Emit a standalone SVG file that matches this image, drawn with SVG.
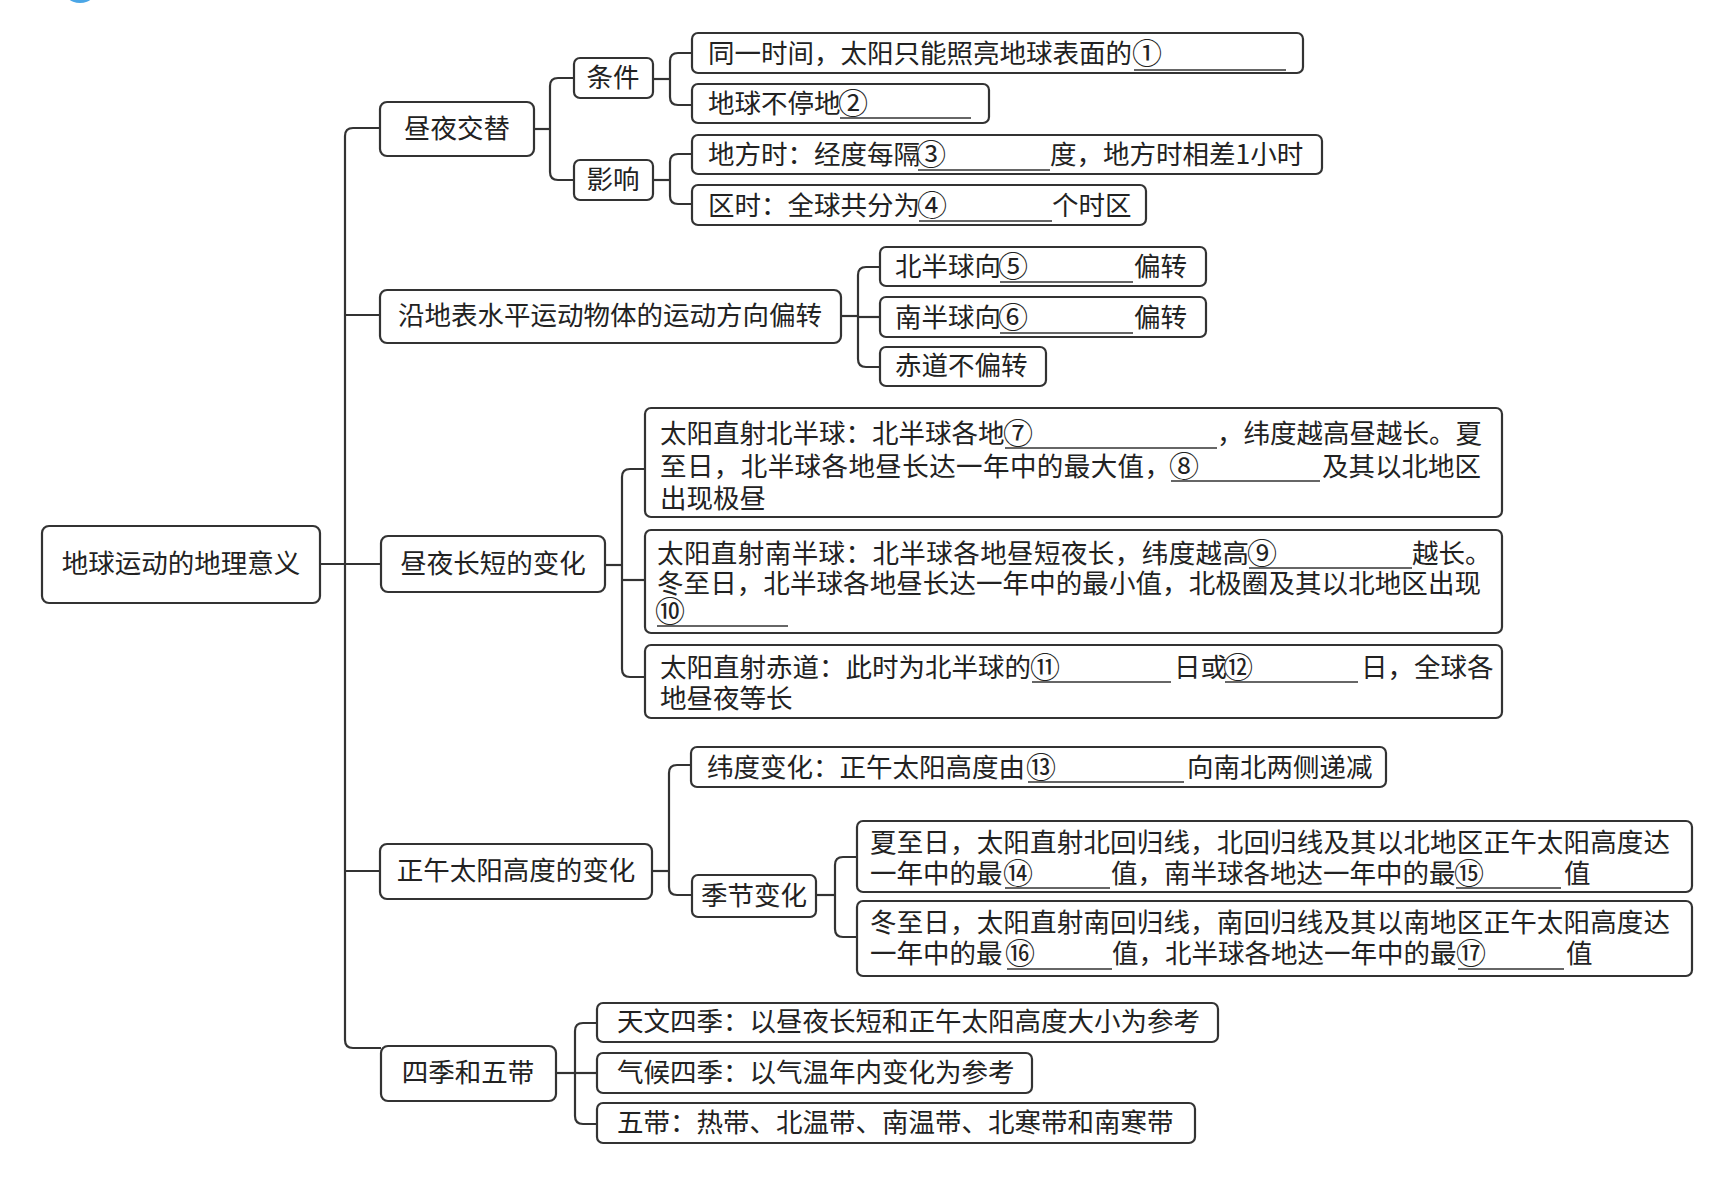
<svg xmlns="http://www.w3.org/2000/svg" width="1734" height="1178" viewBox="0 0 1734 1178">
<style>
.box{fill:#fff;stroke:#333;stroke-width:2.2}
.t{font-family:"Noto Sans CJK SC","Noto Sans CJK TC",sans-serif;font-size:26.5px;fill:#222;dominant-baseline:central;transform:translate(0px,-2.5px)}
.n{font-size:30px}
.c{text-anchor:middle}
.blank{stroke:#333;stroke-width:1.6}
.con{fill:none;stroke:#333;stroke-width:2.2}
</style>
<rect width="1734" height="1178" fill="#fff"/>
<ellipse cx="80" cy="-14" rx="18" ry="17" fill="#4aa6e6"/>

<g id="connectors">
<path class="con" d="M380 128 H353 Q345 128 345 136 V1040 Q345 1048 353 1048 H381"/>
<path class="con" d="M345 315 H380"/>
<path class="con" d="M320 564 H381"/>
<path class="con" d="M345 871 H380"/>
<path class="con" d="M534 129 H550"/>
<path class="con" d="M574 78 H558 Q550 78 550 86 V172 Q550 180 558 180 H574"/>
<path class="con" d="M653 79 H670"/>
<path class="con" d="M692 53 H678 Q670 53 670 61 V97 Q670 105 678 105 H692"/>
<path class="con" d="M653 180 H670"/>
<path class="con" d="M692 154 H678 Q670 154 670 162 V196 Q670 204 678 204 H692"/>
<path class="con" d="M841 316 H858"/>
<path class="con" d="M880 267 H866 Q858 267 858 275 V359 Q858 367 866 367 H880"/>
<path class="con" d="M858 317 H880"/>
<path class="con" d="M605 565 H622"/>
<path class="con" d="M645 469 H630 Q622 469 622 477 V669 Q622 677 630 677 H645"/>
<path class="con" d="M622 580 H645"/>
<path class="con" d="M652 871 H669"/>
<path class="con" d="M691 765 H677 Q669 765 669 773 V887 Q669 895 677 895 H692"/>
<path class="con" d="M816 895 H835"/>
<path class="con" d="M857 857 H843 Q835 857 835 865 V929 Q835 937 843 937 H857"/>
<path class="con" d="M556 1073 H575"/>
<path class="con" d="M597 1023 H583 Q575 1023 575 1031 V1116 Q575 1124 583 1124 H597"/>
<path class="con" d="M575 1073 H597"/>
</g>

<g id="root">
<rect class="box" x="42" y="526" width="278" height="77" rx="7"/>
<text class="t c" x="181" y="564">地球运动的地理意义</text>
</g>

<g id="n1">
<rect class="box" x="380" y="102" width="154" height="54" rx="7"/>
<text class="t c" x="457" y="129">昼夜交替</text>
</g>
<g id="n1a">
<rect class="box" x="574" y="58" width="79" height="40" rx="6"/>
<text class="t c" x="613" y="78">条件</text>
</g>
<g id="n1b">
<rect class="box" x="574" y="160" width="79" height="40" rx="6"/>
<text class="t c" x="613" y="180">影响</text>
</g>
<g id="n1a1">
<rect class="box" x="692" y="33" width="611" height="40" rx="6"/>
<text class="t" y="53"><tspan x="708">同一时间，太阳只能照亮地球表面的</tspan><tspan class="n" x="1132">①</tspan></text>
<line class="blank" x1="1134" y1="70" x2="1286" y2="70"/>
</g>
<g id="n1a2">
<rect class="box" x="692" y="84" width="297" height="39" rx="6"/>
<text class="t" y="103"><tspan x="708">地球不停地</tspan><tspan class="n" x="838">②</tspan></text>
<line class="blank" x1="840" y1="118" x2="971" y2="118"/>
</g>
<g id="n1b1">
<rect class="box" x="692" y="135" width="630" height="39" rx="6"/>
<text class="t" y="154"><tspan x="708">地方时：经度每隔</tspan><tspan class="n" x="916">③</tspan><tspan x="1050">度，地方时相差1小时</tspan></text>
<line class="blank" x1="918" y1="170" x2="1050" y2="170"/>
</g>
<g id="n1b2">
<rect class="box" x="692" y="185" width="454" height="40" rx="6"/>
<text class="t" y="205"><tspan x="708">区时：全球共分为</tspan><tspan class="n" x="917">④</tspan><tspan x="1052">个时区</tspan></text>
<line class="blank" x1="919" y1="221" x2="1052" y2="221"/>
</g>

<g id="n2">
<rect class="box" x="380" y="290" width="461" height="53" rx="7"/>
<text class="t c" x="610" y="316">沿地表水平运动物体的运动方向偏转</text>
</g>
<g id="n2a">
<rect class="box" x="880" y="247" width="326" height="39" rx="6"/>
<text class="t" y="266"><tspan x="895">北半球向</tspan><tspan class="n" x="998">⑤</tspan><tspan x="1134">偏转</tspan></text>
<line class="blank" x1="1000" y1="282" x2="1133" y2="282"/>
</g>
<g id="n2b">
<rect class="box" x="880" y="297" width="326" height="40" rx="6"/>
<text class="t" y="317"><tspan x="895">南半球向</tspan><tspan class="n" x="998">⑥</tspan><tspan x="1134">偏转</tspan></text>
<line class="blank" x1="1000" y1="333" x2="1133" y2="333"/>
</g>
<g id="n2c">
<rect class="box" x="880" y="347" width="166" height="39" rx="6"/>
<text class="t" x="895" y="366">赤道不偏转</text>
</g>

<g id="n3">
<rect class="box" x="381" y="536" width="224" height="56" rx="7"/>
<text class="t c" x="493" y="564">昼夜长短的变化</text>
</g>
<g id="n3a">
<rect class="box" x="645" y="408" width="857" height="109" rx="6"/>
<text class="t"><tspan x="660" y="433">太阳直射北半球：北半球各地</tspan><tspan class="n" x="1003" y="433">⑦</tspan><tspan x="1217" y="433">，纬度越高昼越长。夏</tspan><tspan x="660" y="466" textLength="511" lengthAdjust="spacing">至日，北半球各地昼长达一年中的最大值，</tspan><tspan class="n" x="1169" y="466">⑧</tspan><tspan x="1322" y="466">及其以北地区</tspan><tspan x="660" y="498">出现极昼</tspan></text>
<line class="blank" x1="1005" y1="448" x2="1217" y2="448"/>
<line class="blank" x1="1171" y1="481" x2="1320" y2="481"/>
</g>
<g id="n3b">
<rect class="box" x="645" y="530" width="857" height="103" rx="6"/>
<text class="t"><tspan x="657" y="553" textLength="592" lengthAdjust="spacing">太阳直射南半球：北半球各地昼短夜长，纬度越高</tspan><tspan class="n" x="1247" y="553">⑨</tspan><tspan x="1412" y="553">越长。</tspan><tspan x="657" y="583" textLength="824" lengthAdjust="spacing">冬至日，北半球各地昼长达一年中的最小值，北极圈及其以北地区出现</tspan><tspan class="n" x="655" y="611">⑩</tspan></text>
<line class="blank" x1="1249" y1="568" x2="1412" y2="568"/>
<line class="blank" x1="657" y1="626" x2="788" y2="626"/>
</g>
<g id="n3c">
<rect class="box" x="645" y="645" width="857" height="73" rx="6"/>
<text class="t"><tspan x="660" y="667">太阳直射赤道：此时为北半球的</tspan><tspan class="n" x="1030" y="667">⑪</tspan><tspan x="1174" y="667">日或</tspan><tspan class="n" x="1223" y="667">⑫</tspan><tspan x="1361" y="667">日，全球各</tspan><tspan x="660" y="698">地昼夜等长</tspan></text>
<line class="blank" x1="1032" y1="682" x2="1171" y2="682"/>
<line class="blank" x1="1225" y1="682" x2="1358" y2="682"/>
</g>

<g id="n4">
<rect class="box" x="380" y="844" width="272" height="55" rx="7"/>
<text class="t c" x="516" y="871">正午太阳高度的变化</text>
</g>
<g id="n4a">
<rect class="box" x="691" y="747" width="695" height="40" rx="6"/>
<text class="t" y="767"><tspan x="707">纬度变化：正午太阳高度由</tspan><tspan class="n" x="1026">⑬</tspan><tspan x="1187">向南北两侧递减</tspan></text>
<line class="blank" x1="1028" y1="782" x2="1184" y2="782"/>
</g>
<g id="n4b">
<rect class="box" x="692" y="875" width="124" height="42" rx="6"/>
<text class="t c" x="754" y="896">季节变化</text>
</g>
<g id="n4b1">
<rect class="box" x="857" y="821" width="835" height="71" rx="6"/>
<text class="t"><tspan x="870" y="842" textLength="800" lengthAdjust="spacing">夏至日，太阳直射北回归线，北回归线及其以北地区正午太阳高度达</tspan><tspan x="870" y="873">一年中的最</tspan><tspan class="n" x="1003" y="873">⑭</tspan><tspan x="1111" y="873">值，南半球各地达一年中的最</tspan><tspan class="n" x="1454" y="873">⑮</tspan><tspan x="1564" y="873">值</tspan></text>
<line class="blank" x1="1005" y1="888" x2="1110" y2="888"/>
<line class="blank" x1="1456" y1="888" x2="1561" y2="888"/>
</g>
<g id="n4b2">
<rect class="box" x="857" y="901" width="835" height="75" rx="6"/>
<text class="t"><tspan x="870" y="922" textLength="800" lengthAdjust="spacing">冬至日，太阳直射南回归线，南回归线及其以南地区正午太阳高度达</tspan><tspan x="870" y="953">一年中的最</tspan><tspan class="n" x="1005" y="953">⑯</tspan><tspan x="1112" y="953">值，北半球各地达一年中的最</tspan><tspan class="n" x="1456" y="953">⑰</tspan><tspan x="1566" y="953">值</tspan></text>
<line class="blank" x1="1007" y1="969" x2="1112" y2="969"/>
<line class="blank" x1="1458" y1="969" x2="1564" y2="969"/>
</g>

<g id="n5">
<rect class="box" x="381" y="1046" width="175" height="55" rx="7"/>
<text class="t c" x="468" y="1073">四季和五带</text>
</g>
<g id="n5a">
<rect class="box" x="597" y="1003" width="621" height="39" rx="6"/>
<text class="t" x="617" y="1022">天文四季：以昼夜长短和正午太阳高度大小为参考</text>
</g>
<g id="n5b">
<rect class="box" x="597" y="1053" width="435" height="40" rx="6"/>
<text class="t" x="617" y="1073">气候四季：以气温年内变化为参考</text>
</g>
<g id="n5c">
<rect class="box" x="597" y="1103" width="598" height="40" rx="6"/>
<text class="t" x="617" y="1123">五带：热带、北温带、南温带、北寒带和南寒带</text>
</g>
</svg>
